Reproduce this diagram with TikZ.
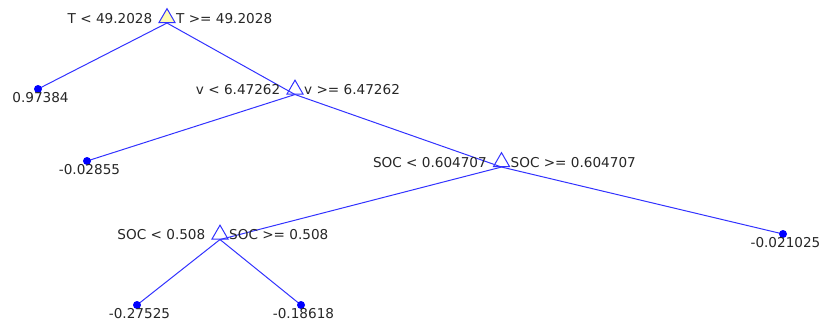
\documentclass[tikz,border=0pt]{standalone}
\usepackage{fontspec}
\setmainfont{DejaVu Sans}
\usetikzlibrary{shapes.geometric,backgrounds}
\definecolor{branch}{RGB}{50,50,255}
\begin{document}
\begin{tikzpicture}[x=1pt,y=-1pt,
  font=\fontsize{13.6}{16}\selectfont,
  edge/.style={draw=branch, line width=1pt},
  split/.style={regular polygon, regular polygon sides=3, minimum size=18.5pt,
    inner sep=0pt, draw=branch, line width=1pt},
  leaf/.style={circle, fill=blue, minimum size=8pt, inner sep=0pt},
  txt/.style={inner sep=0pt, text=black!85},
  lt/.style={txt, anchor=base east},
  rt/.style={txt, anchor=base west},
  lf/.style={txt, anchor=base}]
\useasboundingbox (0,0) rectangle (822,327);

% split nodes (triangles) and leaves (dots)
\node[split, fill=yellow!30] (root) at (167,17.9) {};
\node[split] (v)  at (295,89.4) {};
\node[split] (s1) at (501.5,161.9) {};
\node[split] (s2) at (220,234.4) {};
\node[leaf] (l1) at (38,89) {};
\node[leaf] (l2) at (87,161) {};
\node[leaf] (l3) at (783,234) {};
\node[leaf] (l4) at (137,305) {};
\node[leaf] (l5) at (301,305) {};

% branches
\begin{scope}[on background layer]
  \draw[edge] (root.side 2) -- (l1.center);
  \draw[edge] (root.side 2) -- (v.side 2);
  \draw[edge] (v.side 2) -- (l2.center);
  \draw[edge] (v.side 2) -- (s1.side 2);
  \draw[edge] (s1.side 2) -- (s2.side 2);
  \draw[edge] (s1.side 2) -- (l3.center);
  \draw[edge] (s2.side 2) -- (l4.center);
  \draw[edge] (s2.side 2) -- (l5.center);
\end{scope}

% split rules
\node[lt] at ([xshift=-14.5pt]root.side 2) {T < 49.2028};
\node[rt] at ([xshift=9pt]root.side 2) {T >= 49.2028};
\node[lt] at ([xshift=-14.5pt]v.side 2) {v < 6.47262};
\node[rt] at ([xshift=9pt]v.side 2) {v >= 6.47262};
\node[lt] at ([xshift=-14.5pt]s1.side 2) {SOC < 0.604707};
\node[rt] at ([xshift=9pt]s1.side 2) {SOC >= 0.604707};
\node[lt] at ([xshift=-14.5pt]s2.side 2) {SOC < 0.508};
\node[rt] at ([xshift=9pt]s2.side 2) {SOC >= 0.508};

% leaf values
\node[lf] at ([xshift=2.5pt,yshift=-13pt]l1.center) {0.97384};
\node[lf] at ([xshift=2.5pt,yshift=-13pt]l2.center) {-0.02855};
\node[lf] at ([xshift=2.5pt,yshift=-13pt]l3.center) {-0.021025};
\node[lf] at ([xshift=2.5pt,yshift=-13pt]l4.center) {-0.27525};
\node[lf] at ([xshift=2.5pt,yshift=-13pt]l5.center) {-0.18618};
\end{tikzpicture}
\end{document}
